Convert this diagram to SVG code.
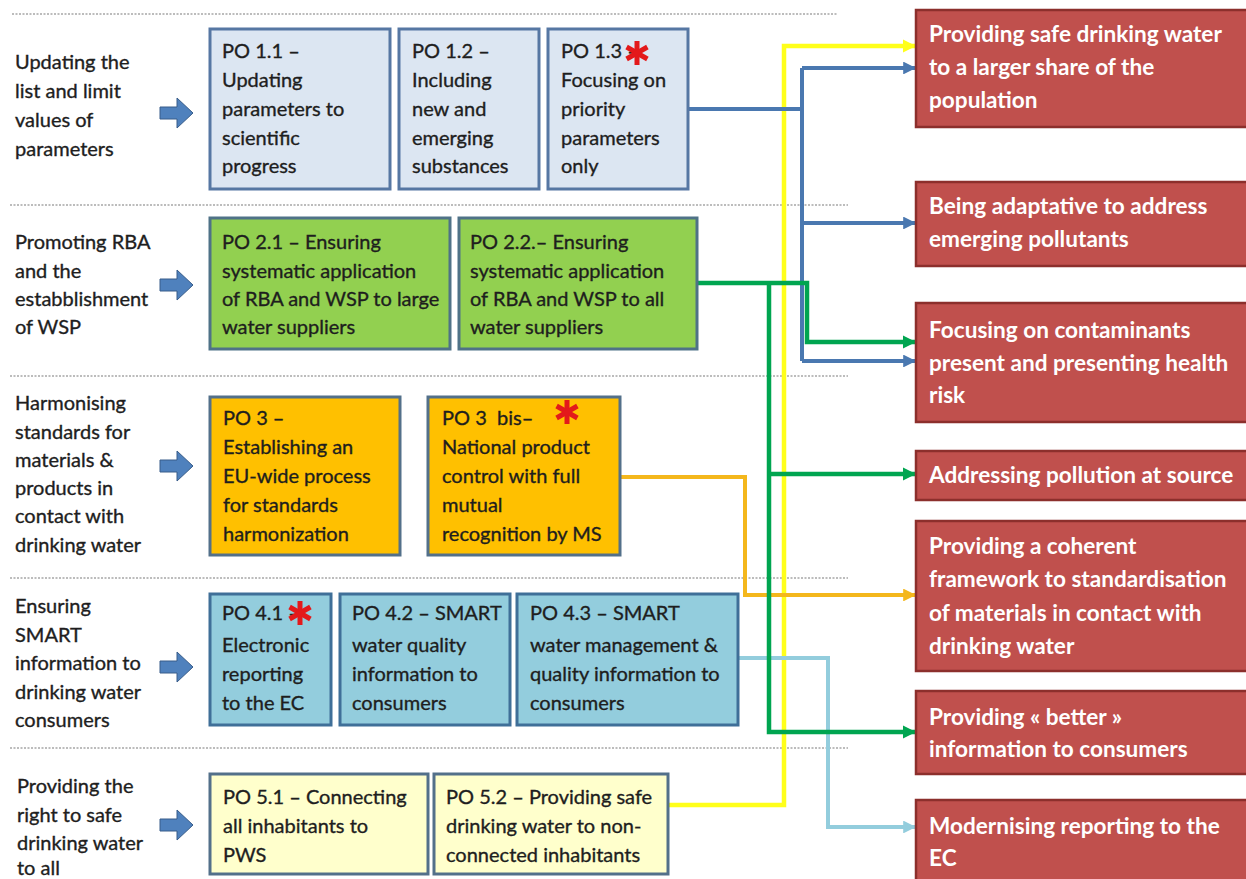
<svg xmlns="http://www.w3.org/2000/svg" width="1246" height="879" viewBox="0 0 1246 879">
  <defs>
    <style>
      .lbl { font-family: Lato, "Liberation Sans", sans-serif; font-size: 20px; fill: #1e1e1e; stroke: #1e1e1e; stroke-width: 0.35; }
      .po { font-family: Lato, "Liberation Sans", sans-serif; font-size: 20px; fill: #1e1e1e; stroke: #1e1e1e; stroke-width: 0.35; }
      .goal { font-family: Lato, "Liberation Sans", sans-serif; font-size: 22.6px; font-weight: bold; fill: #ffffff; }
      .sep { stroke: #a6a6a6; stroke-width: 1.5; stroke-dasharray: 2 1.5; fill: none; }
      .b1 { fill: #dce6f2; stroke: #5677a3; stroke-width: 3; }
      .b2 { fill: #92d050; stroke: #4f7287; stroke-width: 3; }
      .b3 { fill: #ffc000; stroke: #53708a; stroke-width: 3; }
      .b4 { fill: #93cddd; stroke: #3f6f98; stroke-width: 3; }
      .b5 { fill: #ffffcc; stroke: #53708a; stroke-width: 3; }
      .goalbox { fill: #c0504d; stroke: #8c2f2c; stroke-width: 2.5; }
      .blk { fill: #4f81bd; stroke: #385d8a; stroke-width: 1; }
      .ast { stroke: #e3191b; stroke-width: 5; fill: none; }
      .c { fill: none; stroke-linejoin: miter; }
      .yel { stroke: #ffff1a; stroke-width: 4.5; }
      .org { stroke: #f4b71c; stroke-width: 4; }
      .lbu { stroke: #93cddd; stroke-width: 4; }
      .blu { stroke: #4a78b0; stroke-width: 4; }
      .grn { stroke: #00a550; stroke-width: 4.5; }
    </style>
    <marker id="mYel" viewBox="0 0 10 10" refX="10" refY="5" markerWidth="3" markerHeight="3" orient="auto" markerUnits="strokeWidth"><path d="M0,0 L10,5 L0,10 z" fill="#ffff1a"/></marker>
    <marker id="mOrg" viewBox="0 0 10 10" refX="10" refY="5" markerWidth="3.2" markerHeight="3.2" orient="auto" markerUnits="strokeWidth"><path d="M0,0 L10,5 L0,10 z" fill="#f4b71c"/></marker>
    <marker id="mLbu" viewBox="0 0 10 10" refX="10" refY="5" markerWidth="3.2" markerHeight="3.2" orient="auto" markerUnits="strokeWidth"><path d="M0,0 L10,5 L0,10 z" fill="#93cddd"/></marker>
    <marker id="mBlu" viewBox="0 0 10 10" refX="10" refY="5" markerWidth="3.2" markerHeight="3.2" orient="auto" markerUnits="strokeWidth"><path d="M0,0 L10,5 L0,10 z" fill="#4a78b0"/></marker>
    <marker id="mGrn" viewBox="0 0 10 10" refX="10" refY="5" markerWidth="3" markerHeight="3" orient="auto" markerUnits="strokeWidth"><path d="M0,0 L10,5 L0,10 z" fill="#00a550"/></marker>
    <!-- block arrow pointing right, origin at its vertical centre -->
    <path id="blockArrow" d="M0,-6 H17 V-15 L33,0 L17,15 V6 H0 z"/>
    <!-- six-armed asterisk -->
    <g id="asterisk">
      <line x1="0" y1="-12" x2="0" y2="12"/>
      <line x1="-10.4" y1="-6" x2="10.4" y2="6"/>
      <line x1="-10.4" y1="6" x2="10.4" y2="-6"/>
    </g>
  </defs>

  <rect width="1246" height="879" fill="#ffffff"/>

  <!-- row separators -->
  <g id="separators">
    <line class="sep" x1="12" y1="14" x2="838" y2="14"/>
    <line class="sep" x1="10" y1="205" x2="848" y2="205"/>
    <line class="sep" x1="10" y1="376" x2="848" y2="376"/>
    <line class="sep" x1="10" y1="578" x2="848" y2="578"/>
    <line class="sep" x1="10" y1="748" x2="848" y2="748"/>
  </g>

  <!-- row headings with their block arrows -->
  <g id="row1-label">
    <text class="lbl" x="15" y="69">Updating the</text>
    <text class="lbl" x="15" y="98">list and limit</text>
    <text class="lbl" x="15" y="127">values of</text>
    <text class="lbl" x="15" y="156">parameters</text>
    <use href="#blockArrow" class="blk" x="160" y="113"/>
  </g>
  <g id="row2-label">
    <text class="lbl" x="15" y="249">Promoting RBA</text>
    <text class="lbl" x="15" y="278">and the</text>
    <text class="lbl" x="15" y="306">estabblishment</text>
    <text class="lbl" x="15" y="334">of WSP</text>
    <use href="#blockArrow" class="blk" x="160" y="285"/>
  </g>
  <g id="row3-label">
    <text class="lbl" x="15" y="410">Harmonising</text>
    <text class="lbl" x="15" y="439">standards for</text>
    <text class="lbl" x="15" y="467">materials &amp;</text>
    <text class="lbl" x="15" y="495">products in</text>
    <text class="lbl" x="15" y="523">contact with</text>
    <text class="lbl" x="15" y="552">drinking water</text>
    <use href="#blockArrow" class="blk" x="160" y="466"/>
  </g>
  <g id="row4-label">
    <text class="lbl" x="15" y="613">Ensuring</text>
    <text class="lbl" x="15" y="642">SMART</text>
    <text class="lbl" x="15" y="670">information to</text>
    <text class="lbl" x="15" y="699">drinking water</text>
    <text class="lbl" x="15" y="727">consumers</text>
    <use href="#blockArrow" class="blk" x="160" y="667"/>
  </g>
  <g id="row5-label">
    <text class="lbl" x="17" y="793">Providing the</text>
    <text class="lbl" x="17" y="822">right to safe</text>
    <text class="lbl" x="17" y="850">drinking water</text>
    <text class="lbl" x="17" y="875">to all</text>
    <use href="#blockArrow" class="blk" x="160" y="825"/>
  </g>

  <!-- connectors (drawn before the boxes so the boxes cover their starts) -->
  <g id="connectors" class="c">
    <path class="yel" d="M668,805 H784 V46 H916" marker-end="url(#mYel)"/>
    <path class="org" d="M620,477 H745 V595 H916" marker-end="url(#mOrg)"/>
    <path class="lbu" d="M738,658 H828 V827 H916" marker-end="url(#mLbu)"/>
    <path class="blu" d="M688,109 H802"/>
    <path class="blu" d="M802,68 V361"/>
    <path class="blu" d="M802,68 H916" marker-end="url(#mBlu)"/>
    <path class="blu" d="M802,223 H916" marker-end="url(#mBlu)"/>
    <path class="blu" d="M802,361 H916" marker-end="url(#mBlu)"/>
    <path class="grn" d="M697,283 H807 V342 H916" marker-end="url(#mGrn)"/>
    <path class="grn" d="M769,283 V732 H916" marker-end="url(#mGrn)"/>
    <path class="grn" d="M769,474 H916" marker-end="url(#mGrn)"/>
  </g>

  <!-- row 1 options -->
  <g id="po-1-1">
    <rect class="b1" x="210" y="29" width="180" height="160"/>
    <text class="po" x="222" y="58">PO 1.1 –</text>
    <text class="po" x="222" y="87">Updating</text>
    <text class="po" x="222" y="116">parameters to</text>
    <text class="po" x="222" y="145">scientific</text>
    <text class="po" x="222" y="173">progress</text>
  </g>
  <g id="po-1-2">
    <rect class="b1" x="399" y="29" width="140" height="160"/>
    <text class="po" x="412" y="58">PO 1.2 –</text>
    <text class="po" x="412" y="87">Including</text>
    <text class="po" x="412" y="116">new and</text>
    <text class="po" x="412" y="145">emerging</text>
    <text class="po" x="412" y="173">substances</text>
  </g>
  <g id="po-1-3">
    <rect class="b1" x="548" y="29" width="140" height="160"/>
    <text class="po" x="561" y="58">PO 1.3 –</text>
    <text class="po" x="561" y="87">Focusing on</text>
    <text class="po" x="561" y="116">priority</text>
    <text class="po" x="561" y="145">parameters</text>
    <text class="po" x="561" y="173">only</text>
    <use href="#asterisk" class="ast" x="637" y="53"/>
  </g>

  <!-- row 2 options -->
  <g id="po-2-1">
    <rect class="b2" x="210" y="218" width="240" height="131"/>
    <text class="po" x="222" y="249">PO 2.1 – Ensuring</text>
    <text class="po" x="222" y="278">systematic application</text>
    <text class="po" x="222" y="306">of RBA and WSP to large</text>
    <text class="po" x="222" y="334">water suppliers</text>
  </g>
  <g id="po-2-2">
    <rect class="b2" x="459" y="218" width="238" height="131"/>
    <text class="po" x="470" y="249">PO 2.2.– Ensuring</text>
    <text class="po" x="470" y="278">systematic application</text>
    <text class="po" x="470" y="306">of RBA and WSP to all</text>
    <text class="po" x="470" y="334">water suppliers</text>
  </g>

  <!-- row 3 options -->
  <g id="po-3">
    <rect class="b3" x="210" y="397" width="190" height="158"/>
    <text class="po" x="223" y="425">PO 3 –</text>
    <text class="po" x="223" y="454">Establishing an</text>
    <text class="po" x="223" y="483">EU-wide process</text>
    <text class="po" x="223" y="512">for standards</text>
    <text class="po" x="223" y="541">harmonization</text>
  </g>
  <g id="po-3-bis">
    <rect class="b3" x="428" y="397" width="192" height="158"/>
    <text class="po" x="442" y="425" xml:space="preserve">PO 3  bis–</text>
    <text class="po" x="442" y="454">National product</text>
    <text class="po" x="442" y="483">control with full</text>
    <text class="po" x="442" y="512">mutual</text>
    <text class="po" x="442" y="541">recognition by MS</text>
    <use href="#asterisk" class="ast" x="567" y="412"/>
  </g>

  <!-- row 4 options -->
  <g id="po-4-1">
    <rect class="b4" x="210" y="594" width="121" height="131"/>
    <text class="po" x="222" y="620">PO 4.1 –</text>
    <text class="po" x="222" y="652">Electronic</text>
    <text class="po" x="222" y="681">reporting</text>
    <text class="po" x="222" y="710">to the EC</text>
    <use href="#asterisk" class="ast" x="300" y="613"/>
  </g>
  <g id="po-4-2">
    <rect class="b4" x="340" y="594" width="170" height="131"/>
    <text class="po" x="352" y="620">PO 4.2 – SMART</text>
    <text class="po" x="352" y="652">water quality</text>
    <text class="po" x="352" y="681">information to</text>
    <text class="po" x="352" y="710">consumers</text>
  </g>
  <g id="po-4-3">
    <rect class="b4" x="517" y="594" width="221" height="131"/>
    <text class="po" x="530" y="620">PO 4.3 – SMART</text>
    <text class="po" x="530" y="652">water management &amp;</text>
    <text class="po" x="530" y="681">quality information to</text>
    <text class="po" x="530" y="710">consumers</text>
  </g>

  <!-- row 5 options -->
  <g id="po-5-1">
    <rect class="b5" x="210" y="774" width="218" height="100"/>
    <text class="po" x="223" y="804">PO 5.1 – Connecting</text>
    <text class="po" x="223" y="833">all inhabitants to</text>
    <text class="po" x="223" y="862">PWS</text>
  </g>
  <g id="po-5-2">
    <rect class="b5" x="434" y="774" width="234" height="100"/>
    <text class="po" x="446" y="804">PO 5.2 – Providing safe</text>
    <text class="po" x="446" y="833">drinking water to non-</text>
    <text class="po" x="446" y="862">connected inhabitants</text>
  </g>

  <!-- objectives -->
  <g id="goal-1">
    <rect class="goalbox" x="916" y="10" width="332" height="117"/>
    <text class="goal" x="929" y="42">Providing safe drinking water</text>
    <text class="goal" x="929" y="75">to a larger share of the</text>
    <text class="goal" x="929" y="108">population</text>
  </g>
  <g id="goal-2">
    <rect class="goalbox" x="916" y="182" width="332" height="84"/>
    <text class="goal" x="929" y="214">Being adaptative  to address</text>
    <text class="goal" x="929" y="247">emerging pollutants</text>
  </g>
  <g id="goal-3">
    <rect class="goalbox" x="916" y="303" width="332" height="119"/>
    <text class="goal" x="929" y="338">Focusing on contaminants</text>
    <text class="goal" x="929" y="371">present  and presenting health</text>
    <text class="goal" x="929" y="403">risk</text>
  </g>
  <g id="goal-4">
    <rect class="goalbox" x="916" y="451" width="332" height="49"/>
    <text class="goal" x="929" y="483">Addressing pollution at source</text>
  </g>
  <g id="goal-5">
    <rect class="goalbox" x="916" y="521" width="332" height="150"/>
    <text class="goal" x="929" y="554">Providing a coherent</text>
    <text class="goal" x="929" y="587">framework to standardisation</text>
    <text class="goal" x="929" y="621">of materials in contact with</text>
    <text class="goal" x="929" y="654">drinking water</text>
  </g>
  <g id="goal-6">
    <rect class="goalbox" x="916" y="691" width="332" height="83"/>
    <text class="goal" x="929" y="725">Providing « better »</text>
    <text class="goal" x="929" y="757">information to consumers</text>
  </g>
  <g id="goal-7">
    <rect class="goalbox" x="916" y="800" width="332" height="82"/>
    <text class="goal" x="929" y="834">Modernising reporting to the</text>
    <text class="goal" x="929" y="866">EC</text>
  </g>
</svg>
